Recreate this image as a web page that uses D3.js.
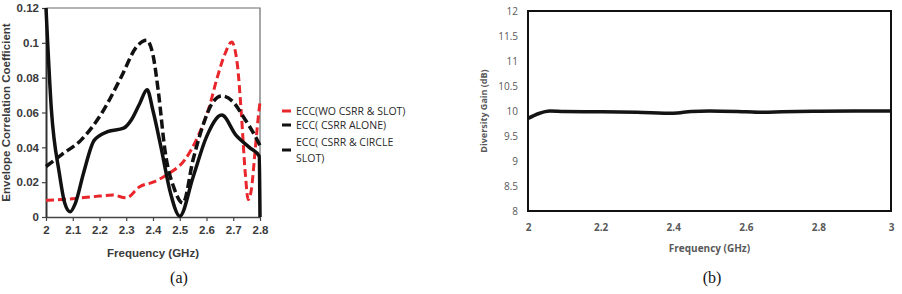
<!DOCTYPE html>
<html>
<head>
<meta charset="utf-8">
<script src="https://cdn.jsdelivr.net/npm/d3@7/dist/d3.min.js"></script>
<style>
  html, body { margin: 0; padding: 0; background: #fff; }
  svg { display: block; }
</style>
</head>
<body>
<svg id="chart" width="902" height="294"></svg>
<script>
'use strict';

/* (a) envelope correlation coefficient */
var eccTicksX = [2, 2.1, 2.2, 2.3, 2.4, 2.5, 2.6, 2.7, 2.8];
var eccTicksY = [0, 0.02, 0.04, 0.06, 0.08, 0.1, 0.12];

var freqWoCsrr = [2.0, 2.1, 2.2, 2.25, 2.3, 2.35, 2.4, 2.46, 2.52, 2.57, 2.61, 2.64,
  2.67, 2.694, 2.715, 2.73, 2.745, 2.756, 2.768, 2.78, 2.79, 2.8];
var eccWoCsrr = [0.0095, 0.0105, 0.012, 0.0126, 0.011, 0.0174, 0.020, 0.025, 0.033,
  0.047, 0.063, 0.080, 0.094, 0.1005, 0.088, 0.060, 0.025, 0.010, 0.016, 0.035, 0.052, 0.066];

var freqCsrrAlone = [2.0, 2.06, 2.13, 2.21, 2.28, 2.34, 2.376, 2.40, 2.42, 2.445, 2.48,
  2.512, 2.55, 2.59, 2.62, 2.657, 2.70, 2.74, 2.78, 2.8];
var eccCsrrAlone = [0.029, 0.036, 0.044, 0.060, 0.080, 0.098, 0.1015, 0.093, 0.072, 0.038,
  0.016, 0.008, 0.033, 0.054, 0.065, 0.0695, 0.066, 0.057, 0.047, 0.041];

var freqCircleSlot = [2.0, 2.02, 2.05, 2.07, 2.09, 2.11, 2.14, 2.18, 2.23, 2.29, 2.32, 2.35,
  2.378, 2.40, 2.43, 2.465, 2.5, 2.55, 2.6, 2.657, 2.71, 2.76, 2.797, 2.8];
var eccCircleSlot = [0.12, 0.062, 0.025, 0.008, 0.003, 0.008, 0.025, 0.044, 0.049, 0.051,
  0.056, 0.065, 0.073, 0.061, 0.040, 0.014, 0.0005, 0.023, 0.046, 0.0585, 0.047, 0.040, 0.035, 0];

var eccLegend = ['ECC(WO CSRR & SLOT)', 'ECC( CSRR ALONE)', 'ECC( CSRR & CIRCLE|SLOT)'];

/* (b) diversity gain */
var dgTicksX = [2, 2.2, 2.4, 2.6, 2.8, 3];
var dgTicksY = [8, 8.5, 9, 9.5, 10, 10.5, 11, 11.5, 12];
var freqDg = [2.0, 2.03, 2.06, 2.1, 2.2, 2.3, 2.4, 2.45, 2.5, 2.6, 2.65, 2.7, 2.8, 2.9, 3.0];
var divGain = [9.85, 9.95, 10.0, 9.99, 9.985, 9.975, 9.955, 9.99, 10.0, 9.985, 9.975,
  9.985, 9.995, 10.0, 10.0];

var svg = d3.select('#chart');

function zip(xs, ys) {
  return xs.map(function(x, i) { return { x: x, y: ys[i] }; });
}

/* ---------- chart (a) ---------- */
var a = { left: 46, right: 260, top: 8, bottom: 217 };

var xA = d3.scaleLinear().domain([2, 2.8]).range([a.left, a.right]);
var yA = d3.scaleLinear().domain([0, 0.12]).range([a.bottom, a.top]);

var gA = svg.append('g')
  .style('font-family', '"Liberation Sans", Arial, sans-serif')
  .style('font-weight', 'bold');

/* top and right frame */
gA.append('path')
  .attr('d', 'M' + a.left + ',' + a.top + 'H' + a.right + 'V' + a.bottom)
  .attr('fill', 'none')
  .attr('stroke', '#6b6b6b')
  .attr('stroke-width', 1.2);

var axisXA = gA.append('g')
  .attr('transform', 'translate(0,' + a.bottom + ')')
  .call(d3.axisBottom(xA).tickValues(eccTicksX).tickSize(4).tickSizeOuter(0)
    .tickFormat(d3.format('')));
axisXA.select('.domain').attr('stroke', '#444').attr('stroke-width', 1.5);
axisXA.selectAll('.tick line').attr('stroke', '#444').attr('stroke-width', 1.2);
axisXA.selectAll('.tick text')
  .attr('y', 9)
  .style('font-size', '11.5px')
  .style('font-family', '"Liberation Sans", Arial, sans-serif')
  .style('font-weight', 'bold')
  .attr('fill', '#3a3a3a');

var axisYA = gA.append('g')
  .attr('transform', 'translate(' + a.left + ',0)')
  .call(d3.axisLeft(yA).tickValues(eccTicksY).tickSize(4).tickSizeOuter(0)
    .tickFormat(d3.format('')));
axisYA.select('.domain').attr('stroke', '#333').attr('stroke-width', 2);
axisYA.selectAll('.tick line').attr('stroke', '#444').attr('stroke-width', 1.2);
axisYA.selectAll('.tick text')
  .attr('x', -7)
  .style('font-size', '11.5px')
  .style('font-family', '"Liberation Sans", Arial, sans-serif')
  .style('font-weight', 'bold')
  .attr('fill', '#3a3a3a');

gA.append('text')
  .attr('transform', 'translate(10,' + ((a.top + a.bottom) / 2) + ') rotate(-90)')
  .attr('text-anchor', 'middle')
  .style('font-size', '11.5px')
  .attr('fill', '#3a3a3a')
  .text('Envelope Correlation Coefficient');

gA.append('text')
  .attr('x', (a.left + a.right) / 2)
  .attr('y', 257)
  .attr('text-anchor', 'middle')
  .style('font-size', '11.5px')
  .attr('fill', '#3a3a3a')
  .text('Frequency (GHz)');

/* We draw the three ECC curves */
var lineA = d3.line()
  .x(function(d) { return xA(d.x); })
  .y(function(d) { return yA(d.y); })
  .curve(d3.curveMonotoneX);

var eccSeries = [
  { data: zip(freqWoCsrr, eccWoCsrr), color: '#e8262b', dash: '8,4', width: 3 },
  { data: zip(freqCsrrAlone, eccCsrrAlone), color: '#111', dash: '9,4', width: 3.5 },
  { data: zip(freqCircleSlot, eccCircleSlot), color: '#111', dash: null, width: 3.5 }
];

gA.append('g').selectAll('path')
  .data(eccSeries)
  .enter().append('path')
    .attr('d', function(d) { return lineA(d.data); })
    .attr('fill', 'none')
    .attr('stroke', function(d) { return d.color; })
    .attr('stroke-width', function(d) { return d.width; })
    .attr('stroke-dasharray', function(d) { return d.dash; })
    .attr('stroke-linejoin', 'round');

/* legend */
var legendRowY = [111, 125, 142];
var legend = svg.append('g')
  .style('font-family', '"Open Sans", "DejaVu Sans", sans-serif')
  .style('font-size', '10.5px');

eccLegend.forEach(function(label, i) {
  var parts = label.split('|');
  var markY = parts.length > 1 ? legendRowY[i] + 8 : legendRowY[i];
  legend.append('line')
    .attr('x1', 282).attr('x2', 291)
    .attr('y1', markY).attr('y2', markY)
    .attr('stroke', eccSeries[i].color)
    .attr('stroke-width', 3);
  parts.forEach(function(p, j) {
    legend.append('text')
      .attr('x', 296)
      .attr('y', legendRowY[i] + 3.5 + j * 16)
      .attr('fill', '#2a2a2a')
      .text(p);
  });
});

/* ---------- chart (b) ---------- */
var b = { left: 528, right: 891, top: 11, bottom: 211 };

var xB = d3.scaleLinear().domain([2, 3]).range([b.left, b.right]);
var yB = d3.scaleLinear().domain([8, 12]).range([b.bottom, b.top]);

var gB = svg.append('g')
  .style('font-family', '"Open Sans", "DejaVu Sans", sans-serif');

var axisYB = gB.append('g')
  .attr('transform', 'translate(' + b.left + ',0)')
  .call(d3.axisLeft(yB).tickValues(dgTicksY).tickSize(0).tickPadding(10)
    .tickFormat(d3.format('')));
axisYB.select('.domain').remove();
axisYB.selectAll('.tick text')
  .style('font-size', '10px')
  .style('font-family', '"Open Sans", "DejaVu Sans", sans-serif')
  .attr('fill', '#595959');

var axisXB = gB.append('g')
  .attr('transform', 'translate(0,' + b.bottom + ')')
  .call(d3.axisBottom(xB).tickValues(dgTicksX).tickSize(0).tickPadding(13)
    .tickFormat(d3.format('')));
axisXB.select('.domain').remove();
axisXB.selectAll('.tick text')
  .style('font-size', '10px')
  .style('font-weight', 'bold')
  .style('font-family', '"Open Sans", "DejaVu Sans", sans-serif')
  .attr('fill', '#595959');

gB.append('rect')
  .attr('x', b.left).attr('y', b.top)
  .attr('width', b.right - b.left).attr('height', b.bottom - b.top)
  .attr('fill', 'none')
  .attr('stroke', '#111')
  .attr('stroke-width', 2);

gB.append('text')
  .attr('transform', 'translate(487,' + ((b.top + b.bottom) / 2) + ') rotate(-90)')
  .attr('text-anchor', 'middle')
  .style('font-size', '9px')
  .style('font-weight', 'bold')
  .attr('fill', '#595959')
  .text('Diversity Gain (dB)');

gB.append('text')
  .attr('x', (b.left + b.right) / 2)
  .attr('y', 252)
  .attr('text-anchor', 'middle')
  .style('font-size', '10px')
  .style('font-weight', 'bold')
  .attr('fill', '#595959')
  .text('Frequency (GHz)');

var lineB = d3.line()
  .x(function(d) { return xB(d.x); })
  .y(function(d) { return yB(d.y); })
  .curve(d3.curveMonotoneX);

gB.append('path')
  .datum(zip(freqDg, divGain))
  .attr('d', lineB)
  .attr('fill', 'none')
  .attr('stroke', '#141414')
  .attr('stroke-width', 3.5)
  .attr('stroke-linejoin', 'round');

/* captions */
svg.selectAll('.caption')
  .data([{ x: 179, t: '(a)' }, { x: 712, t: '(b)' }])
  .enter().append('text')
    .attr('class', 'caption')
    .attr('x', function(d) { return d.x; })
    .attr('y', 283)
    .attr('text-anchor', 'middle')
    .style('font-family', '"Liberation Serif", "Times New Roman", serif')
    .style('font-size', '16px')
    .attr('fill', '#111')
    .text(function(d) { return d.t; });
</script>
</body>
</html>
